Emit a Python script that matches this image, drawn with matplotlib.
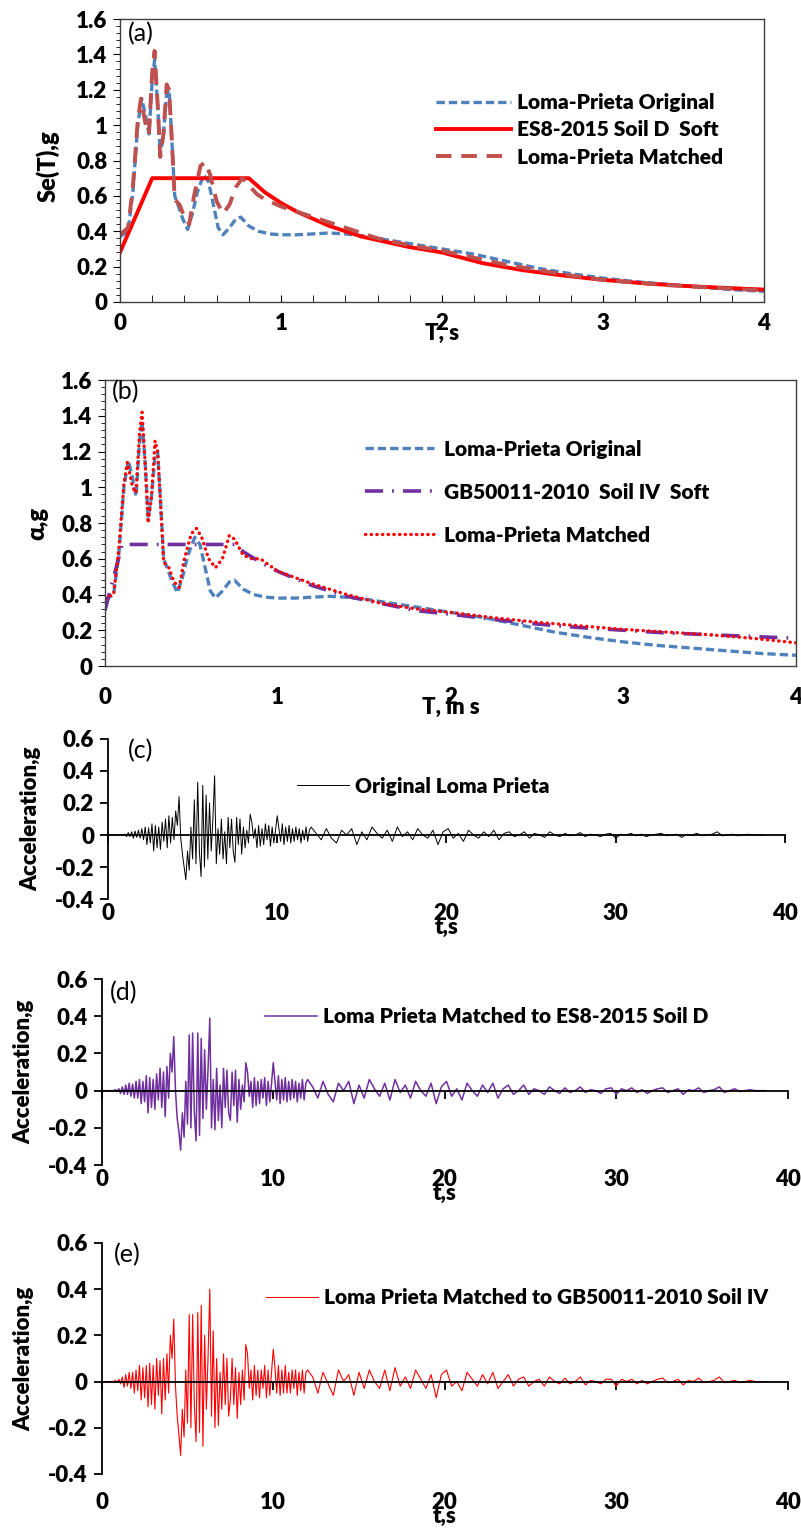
import numpy as np
import matplotlib
matplotlib.use("Agg")
import matplotlib.pyplot as plt
from matplotlib.ticker import MultipleLocator

plt.rcParams['font.family'] = ['Lato', 'DejaVu Sans']

# ---- response spectra ----
T_orig = [0, 0.05, 0.08, 0.11, 0.135, 0.16, 0.18, 0.2, 0.215, 0.235, 0.25, 0.27, 0.29, 0.305, 0.32,
          0.34, 0.36, 0.39, 0.42, 0.45, 0.48, 0.52, 0.55, 0.58, 0.61, 0.64, 0.68, 0.72, 0.75, 0.8,
          0.86, 0.93, 1.0, 1.1, 1.2, 1.3, 1.4, 1.5, 1.6, 1.7, 1.8, 2.0, 2.2, 2.4, 2.6, 2.8, 3.0,
          3.2, 3.4, 3.6, 3.8, 4.0]
Se_orig = [0.37, 0.40, 0.62, 1.00, 1.15, 1.05, 0.95, 1.25, 1.37, 1.10, 0.83, 0.95, 1.18, 1.20, 0.95,
           0.60, 0.55, 0.47, 0.41, 0.50, 0.62, 0.72, 0.68, 0.55, 0.42, 0.38, 0.42, 0.47, 0.48, 0.43,
           0.40, 0.385, 0.38, 0.38, 0.385, 0.39, 0.385, 0.375, 0.36, 0.345, 0.33, 0.30, 0.27, 0.23,
           0.19, 0.16, 0.135, 0.115, 0.10, 0.085, 0.07, 0.06]

T_es8 = [0, 0.2, 0.8, 0.9, 1.0, 1.1, 1.2, 1.3, 1.4, 1.5, 1.6, 1.7, 1.8, 1.9, 2.0,
         2.25, 2.5, 2.75, 3.0, 3.25, 3.5, 3.75, 4.0]
Se_es8 = [0.28, 0.70, 0.70, 0.62, 0.56, 0.51, 0.47, 0.43, 0.40, 0.37, 0.35, 0.33, 0.31, 0.295, 0.28,
          0.22, 0.18, 0.15, 0.125, 0.106, 0.091, 0.08, 0.07]

T_match_a = [0, 0.05, 0.08, 0.11, 0.13, 0.16, 0.18, 0.2, 0.215, 0.235, 0.25, 0.27, 0.29, 0.305, 0.32,
             0.34, 0.37, 0.4, 0.43, 0.46, 0.5, 0.53, 0.56, 0.6, 0.64, 0.68, 0.72, 0.76, 0.8, 0.85,
             0.9, 1.0, 1.1, 1.2, 1.3, 1.4, 1.5, 1.6, 1.8, 2.0, 2.2, 2.4, 2.6, 2.8, 3.0, 3.2, 3.4,
             3.6, 3.8, 4.0]
Se_match_a = [0.38, 0.42, 0.65, 1.02, 1.15, 1.00, 0.95, 1.30, 1.42, 1.10, 0.82, 0.95, 1.23, 1.20, 0.95,
              0.58, 0.55, 0.48, 0.44, 0.60, 0.77, 0.79, 0.72, 0.57, 0.50, 0.55, 0.65, 0.70, 0.66, 0.61,
              0.58, 0.54, 0.51, 0.48, 0.45, 0.42, 0.39, 0.36, 0.32, 0.29, 0.25, 0.21, 0.18, 0.15, 0.125,
              0.11, 0.095, 0.085, 0.075, 0.065]

T_gb = [0, 0.1, 0.75, 0.8, 0.9, 1.0, 1.2, 1.4, 1.6, 1.8, 2.0, 2.25, 2.5, 2.75, 3.0, 3.25, 3.5, 3.75, 4.0]
a_gb = [0.31, 0.68, 0.68, 0.64, 0.58, 0.53, 0.45, 0.39, 0.35, 0.31, 0.29, 0.26, 0.235, 0.215, 0.20,
        0.185, 0.175, 0.165, 0.155]

T_match_b = [0, 0.05, 0.08, 0.11, 0.13, 0.16, 0.18, 0.2, 0.215, 0.235, 0.25, 0.27, 0.29, 0.305, 0.32,
             0.34, 0.37, 0.4, 0.43, 0.46, 0.5, 0.53, 0.56, 0.6, 0.64, 0.68, 0.72, 0.75, 0.8, 0.85,
             0.9, 1.0, 1.2, 1.4, 1.6, 1.8, 2.0, 2.25, 2.5, 2.75, 3.0, 3.25, 3.5, 3.75, 4.0]
a_match_b = [0.38, 0.40, 0.65, 1.02, 1.14, 1.00, 0.97, 1.30, 1.42, 1.10, 0.80, 0.95, 1.26, 1.20, 0.95,
             0.58, 0.55, 0.47, 0.44, 0.60, 0.74, 0.77, 0.72, 0.60, 0.55, 0.60, 0.73, 0.71, 0.62, 0.60,
             0.60, 0.53, 0.46, 0.40, 0.35, 0.32, 0.30, 0.27, 0.245, 0.225, 0.205, 0.19, 0.175, 0.155, 0.13]

# ---- acceleration histories (peaks) ----
# strong part sampled every 0.1 s from 0 to 11.9 s, tail every 0.3 s from 12 s
acc_orig_strong = [
    0, 0, 0, 0, 0, 0, 0, 0, 0, 0,
    0.005, -0.01, 0.015, -0.01, 0.02, -0.02, 0.025, -0.015, 0.03, -0.02,
    0.04, -0.03, 0.05, -0.06, 0.045, -0.05, 0.07, -0.10, 0.06, -0.08,
    0.05, -0.09, 0.08, -0.04, 0.10, -0.08, 0.12, -0.05, 0.11, -0.03,
    0.15, 0.06, 0.24, -0.02, -0.12, -0.20, -0.28, -0.10, -0.22, 0.05,
    -0.15, 0.22, -0.18, 0.33, -0.10, -0.26, 0.31, -0.20, 0.25, -0.15,
    0.20, -0.10, 0.10, 0.37, -0.18, 0.04, -0.12, 0.10, -0.15, 0.02,
    -0.18, 0.11, -0.08, 0.10, -0.10, -0.17, 0.11, -0.06, 0.10, -0.12,
    0.05, -0.08, 0.03, -0.05, 0.13, 0.08, -0.02, 0.04, -0.08, 0.06,
    -0.07, 0.04, -0.06, 0.07, -0.03, 0.06, -0.07, 0.05, -0.05, 0.03,
    0.12, 0.04, -0.04, 0.07, -0.06, 0.05, -0.04, 0.06, -0.05, 0.04,
    -0.04, 0.05, -0.03, 0.04, -0.05, 0.03, -0.03, 0.05, -0.04, 0.03]
acc_orig_tail = [
    0.05, 0.01, -0.03, 0.04, -0.02, -0.05, 0.03, 0.0, 0.04, -0.06,
    0.02, -0.03, 0.05, 0.01, -0.02, 0.03, -0.04, 0.05, -0.01, 0.02,
    -0.03, 0.04, 0.0, -0.02, 0.03, -0.06, 0.02, 0.04, -0.02, 0.01,
    -0.04, 0.03, 0.0, -0.02, 0.02, -0.01, 0.03, -0.03, 0.01, 0.02,
    -0.01, 0.0, 0.02, -0.02, 0.01, 0.0, -0.015, 0.02, 0.0, -0.01,
    0.01, -0.005, 0.0, 0.015, -0.01, 0.005, 0.0, -0.01, 0.005, 0.01,
    -0.02, 0.005, 0.0, 0.01, -0.005, 0.005, -0.01, 0.0, 0.005, 0.01,
    -0.005, 0.0, 0.005, -0.015, 0.005, 0.0, 0.01, -0.005, 0.0, 0.005,
    0.02, -0.005, 0.0, 0.005, -0.005, 0.0, 0.005, 0.0, 0.0, 0.0]

acc_es8_strong = [
    0, 0, 0, 0, 0, 0, 0, 0, 0.005, -0.005,
    0.01, -0.015, 0.02, -0.02, 0.03, -0.02, 0.04, -0.03, 0.035, -0.04,
    0.05, -0.04, 0.06, -0.07, 0.05, -0.06, 0.08, -0.12, 0.07, -0.09,
    0.06, -0.10, 0.09, -0.05, 0.12, -0.09, 0.10, -0.14, 0.13, -0.04,
    0.20, 0.10, 0.29, 0.0, -0.15, -0.22, -0.32, -0.12, -0.25, 0.05,
    -0.18, 0.30, -0.20, 0.31, -0.12, -0.27, 0.31, -0.24, 0.28, -0.15,
    0.22, -0.10, 0.12, 0.39, -0.20, 0.06, -0.21, 0.12, -0.16, 0.03,
    -0.20, 0.12, -0.09, 0.11, -0.12, -0.16, 0.10, -0.08, 0.11, -0.17,
    0.06, -0.10, 0.03, -0.06, 0.15, 0.10, -0.03, 0.05, -0.09, 0.07,
    -0.08, 0.05, -0.07, 0.06, -0.04, 0.07, -0.08, 0.05, -0.06, 0.04,
    0.15, 0.05, -0.05, 0.08, -0.07, 0.06, -0.05, 0.07, -0.06, 0.05,
    -0.05, 0.06, -0.04, 0.05, -0.06, 0.04, -0.04, 0.06, -0.05, 0.04]
acc_es8_tail = [
    0.06, 0.02, -0.04, 0.05, -0.02, -0.06, 0.04, 0.0, 0.05, -0.07,
    0.03, -0.04, 0.06, 0.01, -0.03, 0.04, -0.05, 0.06, -0.01, 0.03,
    -0.04, 0.05, 0.0, -0.03, 0.04, -0.07, 0.02, 0.05, -0.03, 0.01,
    -0.05, 0.04, 0.0, -0.03, 0.03, -0.01, 0.04, -0.04, 0.01, 0.03,
    -0.02, 0.0, 0.03, -0.02, 0.01, 0.0, -0.02, 0.02, 0.0, -0.015,
    0.015, -0.01, 0.0, 0.02, -0.01, 0.005, 0.0, -0.015, 0.01, 0.015,
    -0.02, 0.01, 0.0, 0.015, -0.01, 0.005, -0.015, 0.0, 0.01, 0.015,
    -0.01, 0.0, 0.01, -0.02, 0.005, 0.0, 0.015, -0.01, 0.0, 0.005,
    0.02, -0.01, 0.0, 0.01, -0.005, 0.0, 0.005, 0.0, 0.0, 0.0]

acc_gb_strong = [
    0, 0, 0, 0, 0, 0, 0, 0, 0.005, -0.005,
    0.01, -0.01, 0.02, -0.025, 0.03, -0.02, 0.04, -0.03, 0.04, -0.05,
    0.05, -0.04, 0.07, -0.08, 0.06, -0.07, 0.07, -0.11, 0.08, -0.10,
    0.07, -0.12, 0.10, -0.06, 0.09, -0.14, 0.10, -0.08, 0.12, -0.05,
    0.20, 0.10, 0.27, -0.02, -0.15, -0.23, -0.32, -0.12, -0.24, 0.05,
    -0.18, 0.29, -0.20, 0.29, -0.10, -0.26, 0.30, -0.22, 0.33, -0.28,
    0.20, -0.12, 0.11, 0.40, -0.15, 0.22, -0.20, 0.10, -0.19, 0.04,
    -0.12, 0.12, -0.10, 0.10, -0.15, -0.08, 0.10, -0.10, 0.06, -0.16,
    0.04, -0.10, 0.05, -0.08, 0.16, 0.12, -0.03, 0.05, -0.08, 0.07,
    -0.06, 0.05, -0.07, 0.05, -0.03, 0.07, -0.07, 0.05, -0.06, 0.04,
    0.14, 0.06, -0.05, 0.07, -0.06, 0.05, -0.05, 0.07, -0.05, 0.04,
    -0.05, 0.05, -0.03, 0.05, -0.06, 0.04, -0.04, 0.05, -0.05, 0.04]
acc_gb_tail = [
    0.05, 0.02, -0.05, 0.04, -0.01, -0.06, 0.05, 0.0, 0.03, -0.06,
    0.04, -0.03, 0.05, 0.0, -0.03, 0.05, -0.04, 0.06, -0.02, 0.02,
    -0.03, 0.05, 0.01, -0.03, 0.03, -0.07, 0.03, 0.05, -0.02, 0.0,
    -0.04, 0.04, 0.01, -0.02, 0.03, -0.01, 0.04, -0.03, 0.0, 0.03,
    -0.02, 0.01, 0.02, -0.02, 0.0, 0.01, -0.02, 0.02, 0.0, -0.01,
    0.015, -0.01, 0.0, 0.02, -0.015, 0.005, 0.0, -0.01, 0.01, 0.01,
    -0.02, 0.01, 0.0, 0.01, -0.01, 0.005, -0.01, 0.0, 0.01, 0.015,
    -0.005, 0.0, 0.01, -0.015, 0.005, 0.0, 0.015, -0.005, 0.0, 0.005,
    0.02, -0.005, 0.0, 0.005, -0.005, 0.0, 0.005, 0.0, 0.0, 0.0]

t_strong = np.arange(len(acc_orig_strong)) * 0.1
t_tail = 12 + np.arange(len(acc_orig_tail)) * 0.3
t = np.concatenate([t_strong, t_tail])
acc_orig = np.concatenate([acc_orig_strong, acc_orig_tail])
acc_es8 = np.concatenate([acc_es8_strong, acc_es8_tail])
acc_gb = np.concatenate([acc_gb_strong, acc_gb_tail])

fig = plt.figure(figsize=(8.01, 15.36), dpi=100)

BLUE = '#4F81BD'
BROWN = '#C0504D'
RED = '#FF0000'
PURPLE = '#7030A0'
W = 'heavy'
TICK = 16
LEG = 15


def spectrum_axes(rect):
    ax = fig.add_axes(rect)
    ax.set_xlim(0, 4)
    ax.set_ylim(0, 1.6)
    ax.xaxis.set_major_locator(MultipleLocator(1))
    ax.yaxis.set_major_locator(MultipleLocator(0.2))
    ax.yaxis.set_minor_locator(MultipleLocator(0.04))
    ax.yaxis.set_major_formatter(plt.FuncFormatter(lambda v, p: f"{v:g}"))
    for s in ax.spines.values():
        s.set_color('#404040')
        s.set_linewidth(1.0)
    ax.tick_params(axis='y', which='major', direction='out', length=5, labelsize=TICK, pad=4)
    ax.tick_params(axis='y', which='minor', direction='out', length=3)
    return ax


def bold_ticks(ax):
    for lab in ax.get_yticklabels() + ax.get_xticklabels():
        lab.set_fontweight(W)


# (a)
ax = spectrum_axes([0.1498, 0.8034, 0.804, 0.1842])
ax.xaxis.set_minor_locator(MultipleLocator(0.2))
ax.tick_params(axis='x', which='both', direction='in', length=5, labelsize=TICK, pad=8)
ax.plot(T_orig, Se_orig, color=BLUE, lw=2.4, ls=(0, (2.5, 1.2)), label='Loma-Prieta Original')
ax.plot(T_es8, Se_es8, color=RED, lw=2.8, label='ES8-2015 Soil D  Soft')
ax.plot(T_match_a, Se_match_a, color=BROWN, lw=2.8, ls=(0, (4, 2.5)), label='Loma-Prieta Matched')
ax.set_xlabel('T, s', fontsize=16, fontweight=W, labelpad=-8)
ax.set_ylabel('Se(T),g', fontsize=17, fontweight=W)
ax.yaxis.set_label_coords(-0.094, 0.48)
ax.text(0.012, 0.99, '(a)', transform=ax.transAxes, fontsize=18, va='top', ha='left')
ax.legend(loc='center left', bbox_to_anchor=(0.49, 0.608), frameon=False, borderpad=0,
          borderaxespad=0, handlelength=3.6, handletextpad=0.3, labelspacing=0.4,
          prop={'size': LEG, 'weight': W})
bold_ticks(ax)

# (b)
ax = spectrum_axes([0.131, 0.5664, 0.8627, 0.1862])
ax.tick_params(axis='x', which='both', length=0, labelsize=TICK, pad=15)
ax.plot(T_orig, Se_orig, color=BLUE, lw=2.4, ls=(0, (2.5, 1.2)), label='Loma-Prieta Original')
ax.plot(T_gb, a_gb, color=PURPLE, lw=2.6, ls=(0, (5, 2.5, 0.5, 2.5)), label='GB50011-2010  Soil IV  Soft')
ax.plot(T_match_b, a_match_b, color=RED, lw=2.4, ls=(0, (0.1, 1.6)), dash_capstyle='round',
        label='Loma-Prieta Matched')
ax.set_xlabel('T, in s', fontsize=16, fontweight=W, labelpad=-8)
ax.set_ylabel('α,g', fontsize=17, fontweight=W)
ax.yaxis.set_label_coords(-0.082, 0.5)
ax.text(0.01, 1.0, '(b)', transform=ax.transAxes, fontsize=18, va='top', ha='left')
ax.legend(loc='center left', bbox_to_anchor=(0.376, 0.608), frameon=False, borderpad=0,
          borderaxespad=0, handlelength=3.3, handletextpad=0.5, labelspacing=1.15,
          prop={'size': LEG, 'weight': W})
bold_ticks(ax)


def history_axes(rect, y, color, lw, label, tag, tag_xy, leg_xy, pad, ylab_x):
    ax = fig.add_axes(rect)
    ax.plot(t, y, color=color, lw=lw, label=label)
    ax.set_xlim(0, 40)
    ax.set_ylim(-0.4, 0.6)
    ax.set_yticks([-0.4, -0.2, 0, 0.2, 0.4, 0.6])
    ax.yaxis.set_major_formatter(plt.FuncFormatter(lambda v, p: f"{v:g}"))
    ax.set_xticks([0, 10, 20, 30, 40])
    ax.spines['top'].set_visible(False)
    ax.spines['right'].set_visible(False)
    ax.spines['bottom'].set_position(('data', 0))
    ax.spines['bottom'].set_linewidth(1.3)
    ax.spines['left'].set_linewidth(1.3)
    ax.tick_params(axis='x', direction='out', length=6, width=1.3, labelbottom=False)
    ax.tick_params(axis='y', direction='out', length=6, width=1.3, labelsize=TICK, pad=4)
    for lab in ax.get_yticklabels():
        lab.set_fontweight(W)
    sec = ax.secondary_xaxis(0)
    sec.spines['bottom'].set_visible(False)
    sec.set_xticks([0, 10, 20, 30, 40])
    sec.tick_params(length=0, labelsize=TICK, pad=pad)
    for lab in sec.get_xticklabels():
        lab.set_fontweight(W)
    sec.set_xlabel('t,s', fontsize=16, fontweight=W, labelpad=-5)
    ax.set_ylabel('Acceleration,g', fontsize=16, fontweight=W)
    ax.yaxis.set_label_coords(ylab_x, 0.5)
    ax.text(tag_xy[0], tag_xy[1], tag, transform=ax.transAxes, fontsize=18, va='top', ha='left')
    ax.legend(loc='center left', bbox_to_anchor=leg_xy, frameon=False, borderpad=0,
              borderaxespad=0, handlelength=2.5, handletextpad=0.3,
              prop={'size': LEG, 'weight': W})
    return ax


history_axes([0.1348, 0.4147, 0.8452, 0.1042], acc_orig, 'black', 0.7,
             'Original Loma Prieta', '(c)', (0.03, 1.0), (0.279, 0.706), 3, -0.098)
history_axes([0.127, 0.2415, 0.8566, 0.1211], acc_es8, PURPLE, 1.1,
             'Loma Prieta Matched to ES8-2015 Soil D', '(d)', (0.012, 0.99), (0.238, 0.796), 3, -0.099)
history_axes([0.127, 0.0404, 0.8566, 0.1504], acc_gb, RED, 0.8,
             'Loma Prieta Matched to GB50011-2010 Soil IV', '(e)', (0.017, 1.0), (0.239, 0.762), 13, -0.099)

fig.savefig('out.png', dpi=100)
